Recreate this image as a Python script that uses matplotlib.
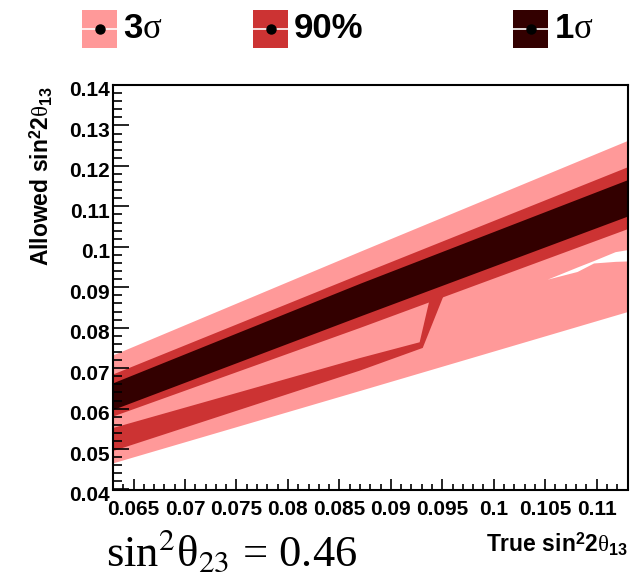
import matplotlib
matplotlib.use("Agg")
import matplotlib.pyplot as plt
import matplotlib.transforms as mtransforms
from matplotlib.patches import Rectangle
from matplotlib.lines import Line2D

# ---------------- data ----------------
band_x = [0.063, 0.087, 0.113]
sig3_hi = [0.0733, 0.0989, 0.1263]
sig3_lo = [0.0466, 0.0645, 0.0840]
cl90_hi = [0.0686, 0.0933, 0.1198]
cl90_lo = [0.0582, 0.0801, 0.1045]
sig1_hi = [0.0664, 0.0910, 0.1166]
sig1_lo = [0.0598, 0.0829, 0.1076]

# 90% secondary island plus its connecting wedge (contour vertices)
arm_x = [0.063, 0.087, 0.0928, 0.0938, 0.0953, 0.0931, 0.087, 0.063]
arm_y = [0.0552, 0.0725, 0.0764, 0.0873, 0.0890, 0.0750, 0.0694, 0.0495]

# excluded sliver inside the 3 sigma region
gap_x = [0.1052, 0.1081, 0.1097, 0.1118, 0.113]
gap_hi = [0.0920, 0.0950, 0.0966, 0.0988, 0.0993]
gap_lo = [0.0920, 0.0939, 0.0960, 0.0964, 0.0965]

x_ticks = [0.065, 0.07, 0.075, 0.08, 0.085, 0.09, 0.095, 0.1, 0.105, 0.11]
x_tick_labels = ["0.065", "0.07", "0.075", "0.08", "0.085", "0.09", "0.095", "0.1", "0.105", "0.11"]
y_ticks = [0.04, 0.05, 0.06, 0.07, 0.08, 0.09, 0.1, 0.11, 0.12, 0.13, 0.14]
y_tick_labels = ["0.04", "0.05", "0.06", "0.07", "0.08", "0.09", "0.1", "0.11", "0.12", "0.13", "0.14"]
x_range = (0.063, 0.113)
y_range = (0.04, 0.14)

legend_labels = ["3$\\sigma$", "90%", "1$\\sigma$"]
c_pink, c_red, c_dark = "#ff9999", "#cc3333", "#330000"
legend_colors = [c_pink, c_red, c_dark]

# ---------------- styling ----------------
plt.rcParams["font.family"] = ["Liberation Sans", "DejaVu Sans"]
plt.rcParams["mathtext.fontset"] = "custom"
plt.rcParams["mathtext.rm"] = "Liberation Sans:bold"
plt.rcParams["mathtext.bf"] = "Liberation Sans:bold"
plt.rcParams["mathtext.sf"] = "Liberation Sans:bold"
plt.rcParams["mathtext.it"] = "Liberation Serif"

W, H = 635, 576
fig = plt.figure(figsize=(W / 100, H / 100), dpi=100)


def fx(px):
    return px / W


def fy(py):
    return 1 - py / H


ax_l, ax_r, ax_t, ax_b = 113, 627.5, 85, 489.5
ax = fig.add_axes([fx(ax_l), fy(ax_b), fx(ax_r - ax_l), (ax_b - ax_t) / H])

ax.fill_between(band_x, sig3_lo, sig3_hi, color=c_pink, lw=0)
ax.fill_between(gap_x, gap_lo, gap_hi, color="white", lw=0)
ax.fill_between(band_x, cl90_lo, cl90_hi, color=c_red, lw=0)
ax.fill(arm_x, arm_y, color=c_red, lw=0)
ax.fill_between(band_x, sig1_lo, sig1_hi, color=c_dark, lw=0)

ax.set_xlim(*x_range)
ax.set_ylim(*y_range)
ax.set_xticks(x_ticks)
ax.set_xticklabels(x_tick_labels)
ax.set_yticks(y_ticks)
ax.set_yticklabels(y_tick_labels)
ax.xaxis.set_minor_locator(matplotlib.ticker.MultipleLocator(0.001))
ax.yaxis.set_minor_locator(matplotlib.ticker.MultipleLocator(0.002))

for s in ax.spines.values():
    s.set_linewidth(1.5)
ax.tick_params(axis="both", which="both", direction="in", top=False, right=False, width=1.2)
ax.tick_params(axis="x", which="major", length=8, pad=7.5, labelsize=15)
ax.tick_params(axis="x", which="minor", length=4.3)
ax.tick_params(axis="y", which="major", length=11.5, pad=2.2, labelsize=15)
ax.tick_params(axis="y", which="minor", length=6.2)
for lab in ax.get_xticklabels() + ax.get_yticklabels():
    lab.set_fontweight("bold")
off = mtransforms.ScaledTranslation(0, -4 / 100, fig.dpi_scale_trans)
for lab in ax.get_yticklabels():
    lab.set_transform(lab.get_transform() + off)

# axis titles
fig.text(fx(41), fy(86), "Allowed sin$^{2}$2$\\theta_{13}$", rotation=90,
         ha="center", va="top", fontsize=16.5, fontweight="bold")
fig.text(fx(628), fy(553), "True sin$^{2}$2$\\theta_{13}$",
         ha="right", va="baseline", fontsize=16.5, fontweight="bold")

# bottom annotation
fig.text(fx(106), fy(566), "sin$^{2}$θ$_{23}$ = 0.46", family="Liberation Serif",
         math_fontfamily="stix", ha="left", va="baseline", fontsize=32)

# legend
box_x = [82, 253, 513]
box_w, box_top, box_h = 35, 10, 38
for bx, col, lab in zip(box_x, legend_colors, legend_labels):
    fig.add_artist(Rectangle((fx(bx), fy(box_top + box_h)), fx(box_w), box_h / H,
                             transform=fig.transFigure, facecolor=col, edgecolor="none"))
    ymid = fy(box_top + box_h / 2)
    fig.add_artist(Line2D([fx(bx), fx(bx + box_w)], [ymid, ymid], transform=fig.transFigure,
                          color="white", lw=1.2))
    fig.add_artist(Line2D([fx(bx + box_w / 2)], [ymid], transform=fig.transFigure,
                          marker="o", markersize=6.5, color="black", lw=0))
    fig.text(fx(bx + box_w + 6), ymid, lab, ha="left", va="center", fontsize=25,
             fontweight="bold")

fig.savefig("out.png", dpi=100)
